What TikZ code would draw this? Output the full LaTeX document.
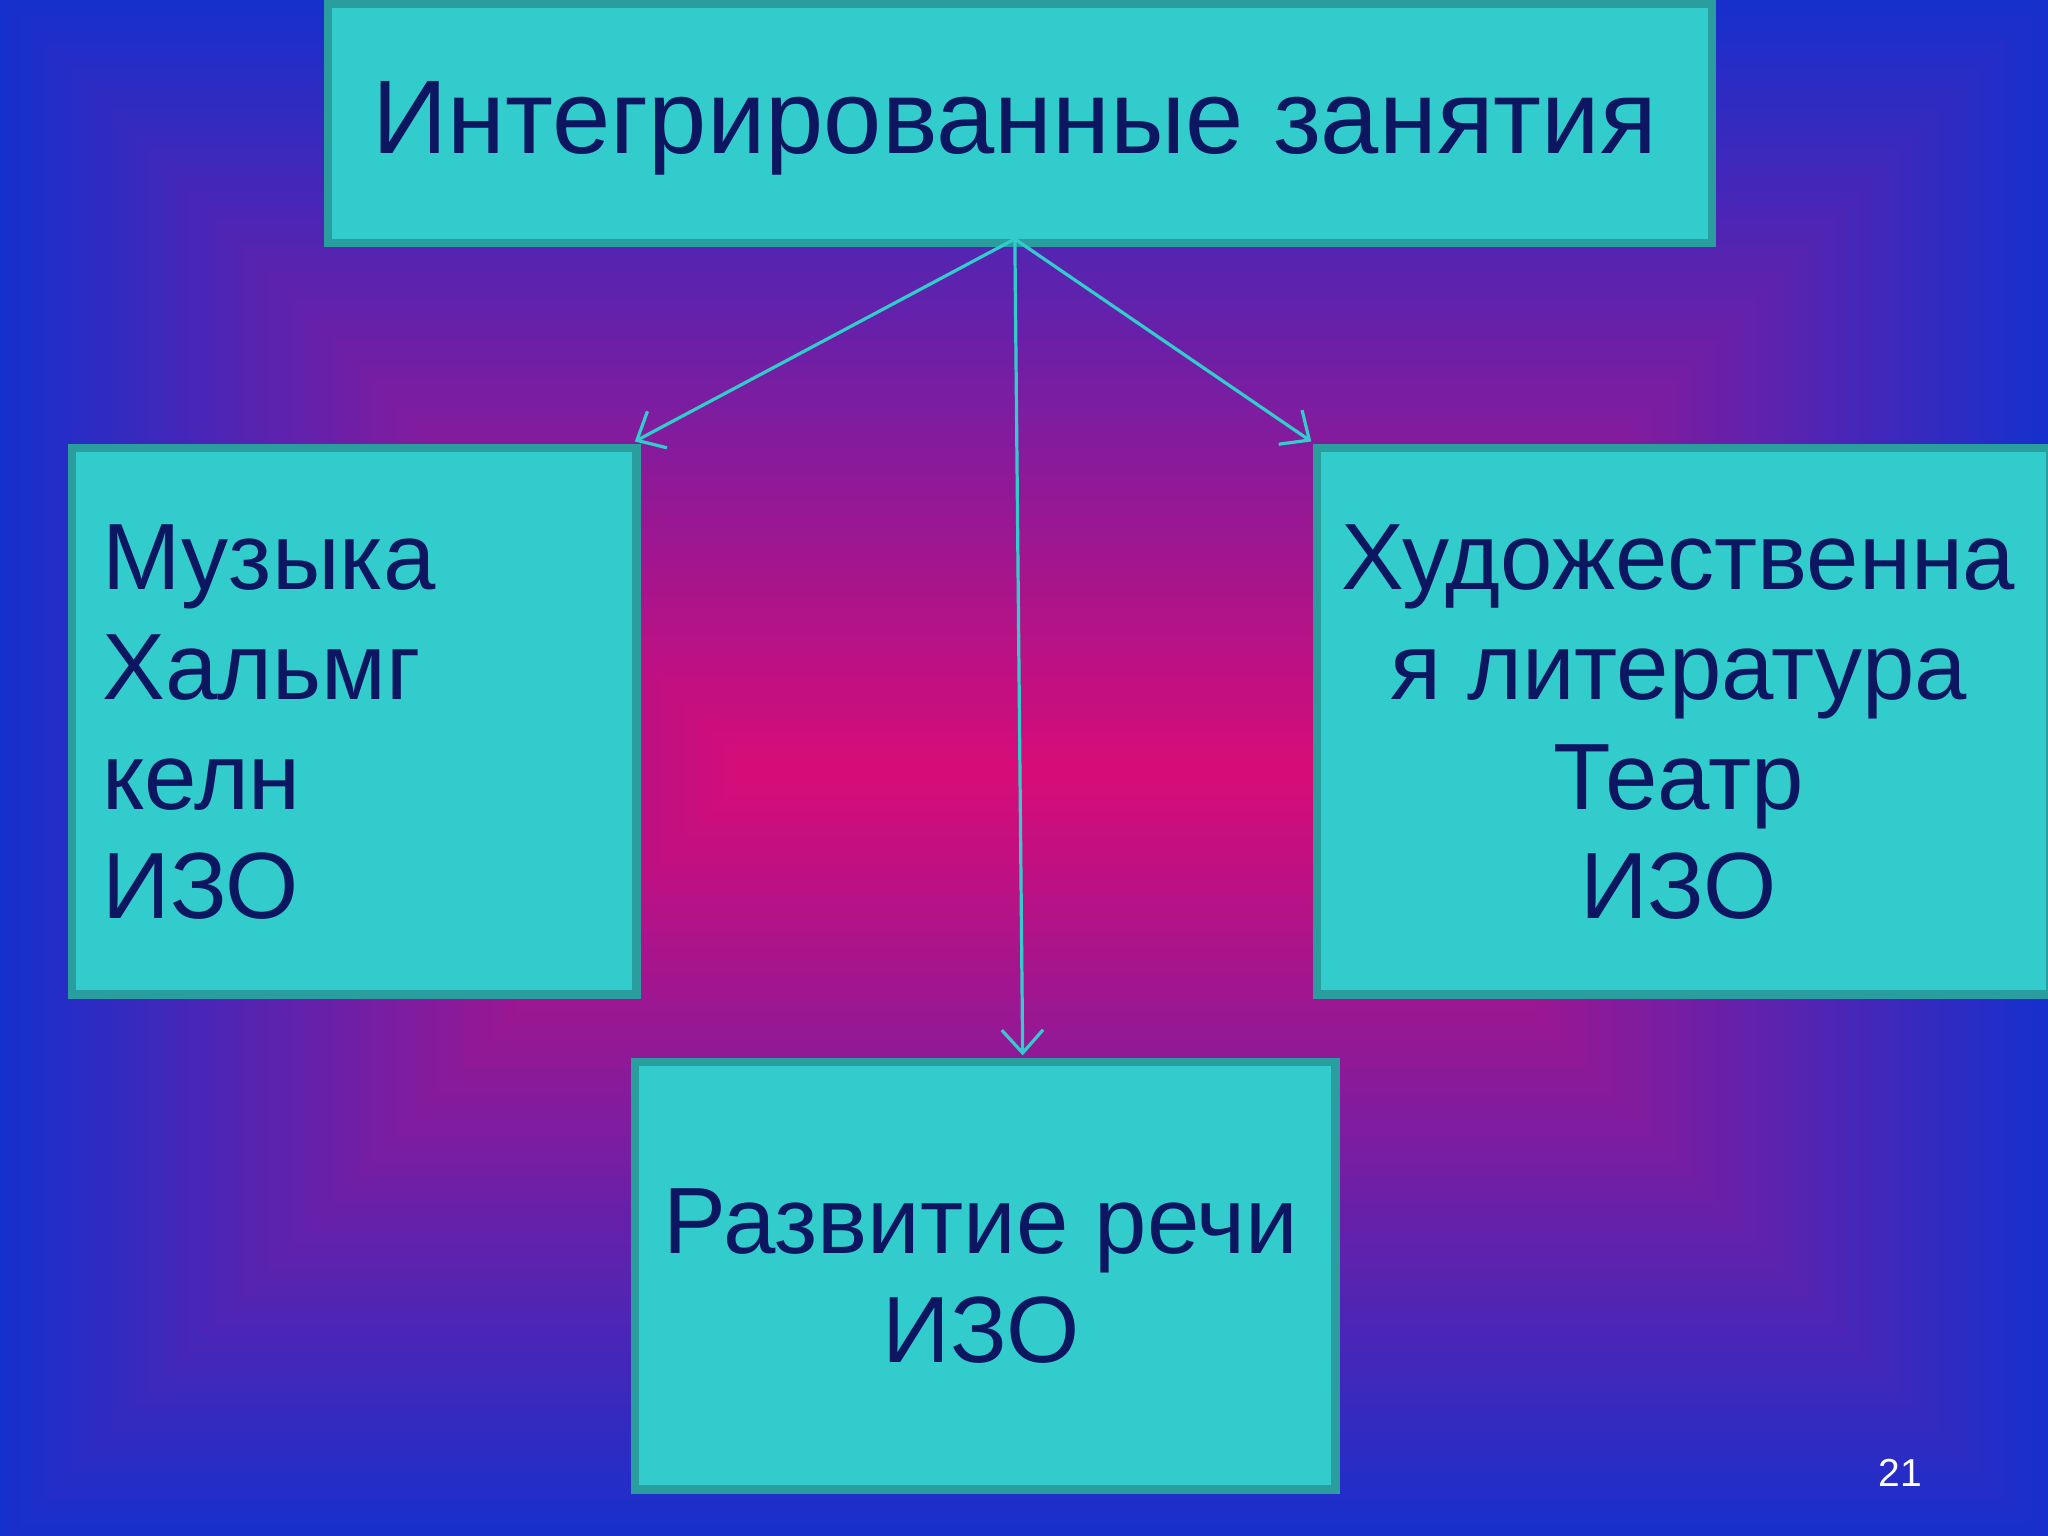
\documentclass[tikz,border=0pt]{standalone}
\usepackage{fontspec}
\setmainfont{Liberation Sans}
\usetikzlibrary{arrows.meta}
\definecolor{edgeblue}{HTML}{0A32D2}
\definecolor{centerpink}{HTML}{D60C78}
\definecolor{boxfill}{HTML}{33CCCC}
\definecolor{boxline}{HTML}{2A9E9E}
\definecolor{navy}{HTML}{0D1660}
\tikzset{
  box/.style={draw=boxline, line width=1.8pt, fill=boxfill, inner sep=0pt},
  conn/.style={draw=boxfill, line width=0.7pt, -{Straight Barb[length=5pt,width=9pt]}},
  txt/.style={text=navy, font=\fontsize{20.5}{23.9}\selectfont, align=center}
}
\begin{document}
\begin{tikzpicture}[x=0.01cm,y=-0.01cm]
\useasboundingbox (0,0) rectangle (1568,1176);
\foreach \i in {60,...,0}{
  \pgfmathsetmacro{\t}{\i/60}
  \pgfmathsetmacro{\pc}{100*\t}
  \fill[edgeblue!\pc!centerpink] ({785-(220+600*\t)},{590-(10+620*\t)}) rectangle ({785+(220+600*\t)},{590+(10+620*\t)});
}
\node[box, minimum width=10.59cm, minimum height=1.83cm, anchor=north west] (top) at (248,0) {};
\node[text=navy, font=\fontsize{22.8}{26}\selectfont] (toptxt) at (777,98) {Интегрированные занятия};
\node[box, minimum width=4.32cm, minimum height=4.18cm, anchor=north west] (left) at (52,340) {};
\node[txt, align=left, anchor=west] (lefttxt) at (66,553) {Музыка\\Хальмг\\келн\\ИЗО};
\node[box, minimum width=5.61cm, minimum height=4.18cm, anchor=north west] (right) at (1005,340) {};
\node[txt] (righttxt) at (1285,553) {Художественна\\я литература\\Театр\\ИЗО};
\node[box, minimum width=5.36cm, minimum height=3.27cm, anchor=north west] (bottom) at (483,810) {};
\node[txt] (bottomtxt) at (751,977) {Развитие речи\\ИЗО};
\coordinate (src) at (777,183);
\coordinate (lend) at (486,338);
\coordinate (rend) at (1004,338);
\coordinate (bend) at (783,808);
\draw[conn] (src) -- (lend);
\draw[conn] (src) -- (rend);
\draw[conn] (src) -- (bend);
\node[text=white, font=\fontsize{8.5}{10}\selectfont] (num) at (1455,1128) {21};
\end{tikzpicture}
\end{document}
